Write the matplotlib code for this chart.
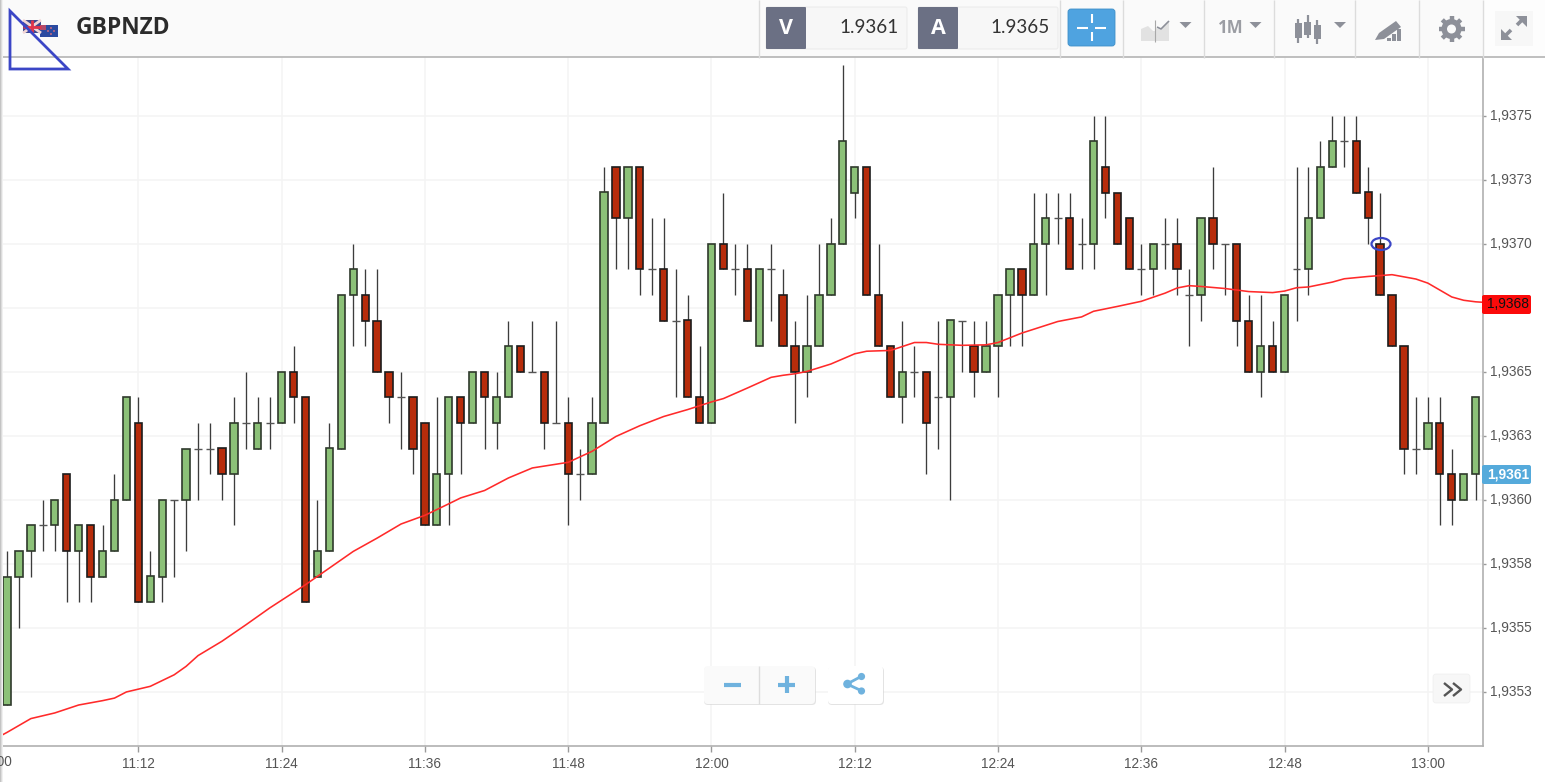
import numpy as np
import matplotlib
matplotlib.use("Agg")
import matplotlib.pyplot as plt
from matplotlib.patches import Rectangle, FancyBboxPatch, Polygon, Ellipse, Circle
from matplotlib.transforms import ScaledTranslation

# ---------- data (prices as pips above 1.9300) ----------
opens = [52,57,58,59,59,61,58,59,57,58,60,63,56,57,60,60,62,62,62,61,63,62,63,63,65,64,57,58,62,68,68,67,
         65,64,64,63,59,61,64,63,65,63,64,66,65,65,63,63,61,61,63,73,71,73,69,69,67,67,64,63,70,69,69,66,69,68,
         66,65,66,68,70,72,73,68,66,64,65,65,64,64,67,66,65,66,68,69,68,70,71,71,70,70,73,72,71,69,69,70,70,68,
         68,71,70,70,67,65,66,65,69,69,71,73,74,74,72,70,68,66,62,62,63,61,60,61]
closes = [57,58,59,59,60,58,59,57,58,60,64,56,57,60,60,62,62,62,61,63,63,63,63,65,64,56,58,62,68,69,67,65,
          64,64,62,59,61,64,63,65,64,64,66,65,65,63,63,61,61,63,72,71,73,69,69,67,67,64,63,70,69,69,67,69,69,66,
          65,66,68,70,74,73,68,66,64,65,65,63,64,67,67,65,66,68,69,68,70,71,71,69,70,74,72,70,69,69,70,70,69,68,
          71,70,70,67,65,66,65,68,69,71,73,74,74,72,71,68,66,62,62,63,61,60,61,64]
highs = [58,58,59,60,60,61,59,59,59,61,64,64,58,60,60,62,63,63,62,64,65,64,64,65,66,64,60,63,68,70,69,69,
         65,65,64,63,64,64,64,65,65,65,67,66,67,65,67,64,62,64,73,73,73,73,71,71,69,68,66,70,72,70,70,69,70,69,
         67,68,70,71,77,73,73,70,66,67,66,65,67,67,67,67,67,68,69,69,72,72,72,72,71,75,75,72,71,70,70,71,71,69,
         71,73,70,70,68,68,67,68,73,73,74,75,75,75,73,72,68,66,64,64,64,62,61,64]
lows = [52,55,57,58,58,56,56,56,57,58,60,56,56,56,57,58,60,61,60,59,62,62,62,63,63,56,57,58,62,66,66,65,
        63,62,61,59,59,59,61,63,62,62,64,65,65,62,63,59,60,61,63,69,69,68,68,67,64,64,63,63,69,68,67,66,67,66,
        63,64,66,68,70,71,68,66,64,63,64,61,62,60,65,64,65,64,66,66,68,68,70,69,69,69,71,70,69,68,68,69,68,66,
        67,69,68,66,65,64,65,65,67,68,71,73,73,72,70,68,66,61,61,62,59,59,60,60]
ma_index = [-1,0,2,4,6,8,9,10,12,14,15,16,18,20,22,25,27,29,31,33,35,37,38,40,42,44,47,49,51,53,55,57,59,60,62,64,65,66,
            67,69,71,72,74,76,77,78,80,82,83,85,87,88,90,91,93,95,97,98,99,100,102,104,106,107,108,109,111,112,114,116,118,119,121,122,123,124]
ma_values = [50.66,50.91,51.45,51.67,51.98,52.15,52.25,52.49,52.71,53.16,53.49,53.91,54.47,55.11,55.77,56.68,57.33,57.98,58.50,59.05,
             59.39,59.84,60.07,60.36,60.85,61.24,61.46,61.89,62.47,62.89,63.25,63.52,63.82,63.95,64.36,64.78,64.86,64.92,
             65.01,65.30,65.70,65.80,65.83,66.14,66.14,66.07,66.03,66.05,66.14,66.51,66.81,66.96,67.14,67.36,67.55,67.75,68.07,
             68.27,68.36,68.33,68.25,68.13,68.09,68.15,68.28,68.31,68.50,68.63,68.72,68.79,68.62,68.46,67.92,67.79,67.73,67.70]
y_tick_pips = [75,72.5,70,67.5,65,62.5,60,57.5,55,52.5]
y_tick_labels = ["1,9375","1,9373","1,9370","","1,9365","1,9363","1,9360","1,9358","1,9355","1,9353"]
x_tick_minutes = [12,24,36,48,60,72,84,96,108,120]
x_tick_labels = ["11:12","11:24","11:36","11:48","12:00","12:12","12:24","12:36","12:48","13:00"]
bid_label, ma_label = "1,9361", "1,9368"

W, H = 1545, 782
GREEN, RED = "#8cc178", "#b72c0b"
plt.rcParams["font.family"] = ["Liberation Sans", "DejaVu Sans"]
fig = plt.figure(figsize=(W/100, H/100), dpi=100, facecolor="white")

# ---------- chart axes: px = -4.94 + 11.94*minute, py = 499.7 - 25.6*(pips-60) ----------
L, R, T, B = 2, 1483, 57, 746
ax = fig.add_axes([L/W, 1-B/H, (R-L)/W, (B-T)/H])
ax.set_xlim((L+4.94)/11.94, (R+4.94)/11.94)
ax.set_ylim(60+(499.7-B)/25.6, 60+(499.7-T)/25.6)
ax.set_xticks(x_tick_minutes, x_tick_labels)
ax.set_yticks(y_tick_pips, y_tick_labels)
ax.yaxis.tick_right()
ax.tick_params(axis="both", width=1, color="#9a9a9a", labelcolor="#555555", labelsize=9.8)
ax.tick_params(axis="y", length=2.5, pad=2.6)
ax.tick_params(axis="x", length=4.3, pad=3.8)
up_shift = ScaledTranslation(0, 1.5/100, fig.dpi_scale_trans)
for lab in ax.get_yticklabels():
    lab.set_transform(lab.get_transform() + up_shift)
ax.grid(True, color="#f4f4f4", lw=1.1)
ax.set_axisbelow(True)
for s in ("top", "left"):
    ax.spines[s].set_visible(False)
for s in ("right", "bottom"):
    ax.spines[s].set_color("#b0b0b0")
    ax.spines[s].set_linewidth(1.2)

minutes = np.arange(len(opens)) + 1
o, c, h, l = map(np.array, (opens, closes, highs, lows))
ax.vlines(minutes, l, h, color="#3c3c3c", lw=0.95, zorder=2)
up = c > o
down = c < o
doji = c == o
bw = 7.3/11.94
ax.bar(minutes[up], (c-o)[up], bottom=o[up], width=bw, color=GREEN, edgecolor="#2f3a2c", linewidth=1.2, zorder=3)
ax.bar(minutes[down], (o-c)[down], bottom=c[down], width=bw, color=RED, edgecolor="#1c1c1c", linewidth=1.2, zorder=3)
ax.hlines(o[doji], minutes[doji]-0.33, minutes[doji]+0.33, color="#555555", lw=1.0, zorder=3)
ax.plot(np.array(ma_index)+1, ma_values, color="#ff2a2a", lw=1.15, zorder=4)

# ---------- page chrome in pixel coordinates ----------
ui = fig.add_axes([0, 0, 1, 1], facecolor="none")
ui.set_xlim(0, W); ui.set_ylim(H, 0); ui.axis("off")

def rect(x0, y0, x1, y1, fc, ec="none", lw=0, z=5):
    ui.add_patch(Rectangle((x0, y0), x1-x0, y1-y0, fc=fc, ec=ec, lw=lw, zorder=z))
def rbox(x0, y0, x1, y1, fc, ec="none", lw=0, r=3, z=5, alpha=None):
    ui.add_patch(FancyBboxPatch((x0+r, y0+r), x1-x0-2*r, y1-y0-2*r, boxstyle=f"round,pad={r},rounding_size={r}",
                                fc=fc, ec=ec, lw=lw, zorder=z, alpha=alpha))
def line(xs, ys, color, lw=1.0, z=6, cap="butt"):
    ui.plot(xs, ys, color=color, lw=lw, zorder=z, solid_capstyle=cap)
def tri(cx, cy, w=12, hh=6, color="#8d9099"):
    ui.add_patch(Polygon([(cx-w/2, cy-hh/2), (cx+w/2, cy-hh/2), (cx, cy+hh/2)], fc=color, ec="none", zorder=6))

# left-edge shading and header
for i, col in enumerate(["#c4c4c4", "#dcdcdc", "#f0f0f0"]):
    rect(i, 0, i+1, H, col, z=4)
rect(3, 0, W, 57, "#fafafa")
rect(1483, 0, W, 57, "#fdfdfd")
line([3, W], [57, 57], "#b4b4b4", 1.2)
for x in [759, 1060, 1123, 1204, 1274, 1355, 1419, 1483]:
    line([x, x], [0, 58], "#dcdcdc", 1.0)

# flags
rect(23, 20, 41, 33, "#3c4a90")
line([23, 41], [20, 33], "#f2d6d6", 2); line([23, 41], [33, 20], "#f2d6d6", 2)
line([32, 32], [20, 33], "#e0344a", 2); line([23, 41], [26.5, 26.5], "#e0344a", 2)
rect(40, 25, 58, 37, "#2b4aa0")
rect(40, 25, 46, 30, "#b04a6a")
for px_, py_ in [(51, 28), (54, 31), (48, 31), (51, 34)]:
    ui.add_patch(Circle((px_, py_), 0.9, fc="#e8707a", ec="none", zorder=6))

# annotation triangle
ui.add_patch(Polygon([(10, 11), (10, 69), (68, 69)], closed=True, fc="none", ec="#3b46c6", lw=2.0, zorder=8))
ui.text(75.5, 28, "GBPNZD", family="Open Sans", weight="bold", fontsize=16.4, color="#2b2b2b", va="center", ha="left", zorder=7)

# bid / ask boxes
for x0, x1, letter, val in [(766, 907, "V", "1.9361"), (918, 1058, "A", "1.9365")]:
    rbox(x0, 7, x1, 49, "#f7f7f7", ec="#ececec", lw=0.8, r=2)
    rbox(x0, 7, x0+40, 49, "#6b7084", r=1, z=6)
    ui.text(x0+20, 28, letter, family="Open Sans", weight="bold", fontsize=15.5, color="white", ha="center", va="center", zorder=7)
    ui.text(x1-8, 27.5, val, family="Lato", fontsize=13.6, color="#333333", ha="right", va="center", zorder=7)

# crosshair button
rbox(1068, 9, 1115, 46, "#4fa3e0", ec="#3f8fc8", lw=0.6, r=3)
line([1077, 1088], [27.5, 27.5], "white", 1.5, z=7); line([1095, 1106], [27.5, 27.5], "white", 1.5, z=7)
line([1091.5, 1091.5], [14, 23], "white", 1.5, z=7); line([1091.5, 1091.5], [32, 41], "white", 1.5, z=7)

# toolbar icons
GI = "#8d9099"
ui.add_patch(Polygon([(1141, 35), (1141, 29), (1148, 26), (1153, 31), (1155, 31), (1155, 41), (1141, 41)], fc="#e2e2e2", ec="none", zorder=6))
ui.add_patch(Polygon([(1156, 41), (1156, 28), (1161, 30), (1169, 22), (1169, 41)], fc="#e2e2e2", ec="none", zorder=6))
line([1155, 1155], [20, 42], "#a8a8a8", 0.8, z=7)
line([1157, 1161, 1169], [27, 29, 21], GI, 1.2, z=7)
tri(1185.5, 25); tri(1255.5, 25)
ui.text(1231, 28, "1M", family="Open Sans", weight="bold", fontsize=12.2, color="#9b9da3", ha="center", va="center", zorder=7)
for cx, a, b, c0, d in [(1298, 19, 43, 23, 38), (1307.5, 15, 38, 22, 35), (1317, 20, 44, 25, 39)]:
    line([cx, cx], [a, b], GI, 1.6)
    rect(cx-3.5, c0, cx+3.5, d, GI, z=7)
tri(1340, 25)
ui.add_patch(Polygon([(1375, 40), (1379, 33), (1396, 21), (1401, 27), (1384, 39)], fc=GI, ec="none", zorder=6))
for x0_, x1_, top in [(1387, 1391, 38), (1392, 1396, 34), (1397, 1401, 29)]:
    rect(x0_, top, x1_, 41, GI, z=6)
# gear
ang = np.linspace(0, 2*np.pi, 8, endpoint=False)
for a in ang:
    ui.plot([1451.5+7*np.cos(a), 1451.5+13*np.cos(a)], [29+7*np.sin(a), 29+13*np.sin(a)], color=GI, lw=3.2, zorder=6, solid_capstyle="butt")
ui.add_patch(Circle((1451.5, 29), 10, fc=GI, ec="none", zorder=6))
ui.add_patch(Circle((1451.5, 29), 4.5, fc="#fafafa", ec="none", zorder=7))
# expand
rect(1495, 11, 1533, 46, "#f7f7f7")
line([1504, 1511], [37, 30], GI, 2.6, z=7)
line([1517, 1524], [25, 18], GI, 2.6, z=7)
ui.add_patch(Polygon([(1501, 40), (1501, 29), (1512, 40)], fc=GI, ec="none", zorder=7))
ui.add_patch(Polygon([(1527, 16), (1516, 16), (1527, 27)], fc=GI, ec="none", zorder=7))

# current-bar marker
ui.add_patch(Ellipse((1381, 244), 19, 12, fc="none", ec="#3b46c6", lw=1.6, zorder=8))

# price tags
rbox(1482, 295, 1531, 314, "#fb0a0a", r=2, z=7)
ui.text(1508, 304.5, ma_label, fontsize=9.9, color="#111111", ha="center", va="center", zorder=8)
rbox(1482, 465, 1531, 484, "#55aadb", r=2, z=7)
ui.text(1508, 474.5, bid_label, fontsize=9.9, color="white", weight="bold", ha="center", va="center", zorder=8)

# clipped 11:00 label
ui.text(-5, 762, "11:00", fontsize=9.8, color="#555555", ha="center", va="center", clip_on=True, zorder=7)

# zoom / share / next buttons
rbox(704, 667, 816, 705, "#d8d8d8", r=4, z=5, alpha=0.7)
rbox(704, 666, 815, 704, "#fafafa", r=4, z=6)
line([758.5, 758.5], [666, 704], "#dddddd", 1.0, z=7)
line([724, 741], [684.5, 684.5], "#6fb2de", 3.0, z=7)
line([778, 795], [684.5, 684.5], "#6fb2de", 3.0, z=7); line([786.5, 786.5], [676, 693], "#6fb2de", 3.0, z=7)
rbox(828, 667, 884, 705, "#d8d8d8", r=4, z=5, alpha=0.7)
rbox(828, 666, 883, 704, "#ffffff", r=4, z=6)
line([847, 862], [684, 676], "#6fb2de", 2.0, z=7); line([847, 862], [684, 691], "#6fb2de", 2.0, z=7)
for cx, cy, r in [(847.5, 684, 4.3), (861.5, 676.5, 3.6), (861.5, 691, 3.6)]:
    ui.add_patch(Circle((cx, cy), r, fc="#6fb2de", ec="none", zorder=7))
rbox(1433, 674, 1470, 703, "#f7f7f7", ec="#eeeeee", lw=0.5, r=3, z=6)
line([1444, 1452, 1444], [683, 689.5, 696], "#555555", 1.7, z=7)
line([1453, 1461, 1453], [683, 689.5, 696], "#555555", 1.7, z=7)

fig.savefig("out.png", dpi=100, facecolor="white")
